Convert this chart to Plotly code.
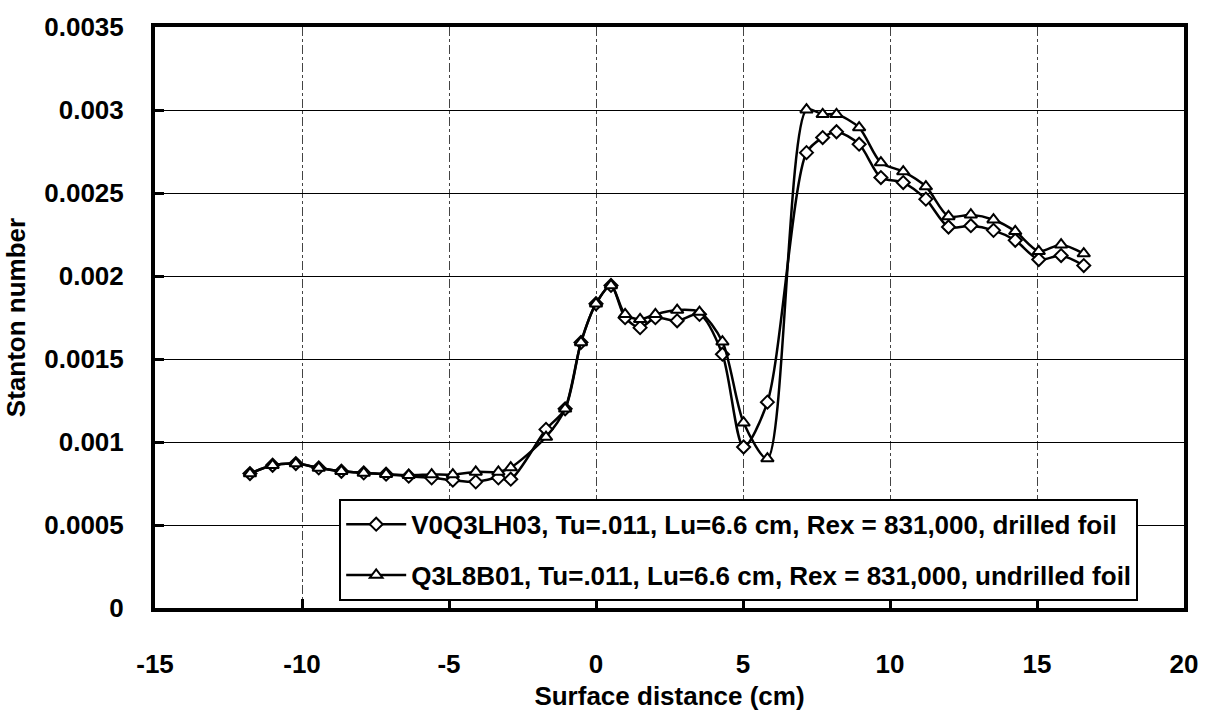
import plotly.graph_objects as go

# Surface distance (cm) of each measurement station
surface_distance = [-11.77, -11.0, -10.21, -9.43, -8.66, -7.90, -7.14, -6.37, -5.59, -4.87,
                    -4.09, -3.32, -2.90, -1.70, -1.05, -0.51, 0.0, 0.51, 0.99, 1.50,
                    2.02, 2.76, 3.52, 4.30, 5.02, 5.83, 7.16, 7.71, 8.18, 8.95,
                    9.69, 10.45, 11.22, 11.99, 12.75, 13.52, 14.26, 15.06, 15.82, 16.59]

# Stanton number, drilled foil run
st_drilled = [0.000810, 0.000860, 0.000870, 0.000844, 0.000824, 0.000814, 0.000806, 0.000794, 0.000784, 0.000770,
              0.000760, 0.000784, 0.000776, 0.001076, 0.001200, 0.001600, 0.001833, 0.001943, 0.001749, 0.001689,
              0.001749, 0.001730, 0.001769, 0.001529, 0.000970, 0.001240, 0.002743, 0.002834, 0.002869, 0.002794,
              0.002593, 0.002563, 0.002463, 0.002295, 0.002303, 0.002275, 0.002215, 0.002099, 0.002123, 0.002063]

# Stanton number, undrilled foil run
st_undrilled = [0.000810, 0.000860, 0.000870, 0.000844, 0.000824, 0.000814, 0.000806, 0.000800, 0.000804, 0.000804,
                0.000820, 0.000820, 0.000846, 0.001030, 0.001200, 0.001600, 0.001833, 0.001943, 0.001769, 0.001739,
                0.001769, 0.001795, 0.001783, 0.001604, 0.001116, 0.000900, 0.003002, 0.002974, 0.002974, 0.002894,
                0.002683, 0.002629, 0.002539, 0.002359, 0.002369, 0.002339, 0.002269, 0.002149, 0.002189, 0.002135]

series_names = [
    "V0Q3LH03, Tu=.011, Lu=6.6 cm, Rex = 831,000, drilled foil",
    "Q3L8B01, Tu=.011, Lu=6.6 cm, Rex = 831,000, undrilled foil",
]

x_ticks = [-15, -10, -5, 0, 5, 10, 15, 20]
y_ticks = [0, 0.0005, 0.001, 0.0015, 0.002, 0.0025, 0.003, 0.0035]
y_ticktext = ["0", "0.0005", "0.001", "0.0015", "0.002", "0.0025", "0.003", "0.0035"]

FONT = "Liberation Sans, Arial, Helvetica, sans-serif"
FS = 26

fig = go.Figure()
fig.add_trace(go.Scatter(
    x=surface_distance, y=st_drilled, name=series_names[0],
    mode="lines+markers", legendgroup="a",
    line=dict(color="black", width=2.5, shape="spline", smoothing=0.8),
    marker=dict(symbol="diamond", size=10, color="white", line=dict(color="black", width=2)),
))
fig.add_trace(go.Scatter(
    x=surface_distance, y=st_undrilled, name=series_names[1],
    mode="lines+markers", legendgroup="b",
    line=dict(color="black", width=2.5, shape="spline", smoothing=0.8),
    marker=dict(symbol="triangle-up", size=11, color="white", line=dict(color="black", width=2)),
))

fig.update_layout(
    width=1211, height=719,
    margin=dict(l=155, r=27, t=22, b=111),
    paper_bgcolor="white", plot_bgcolor="white",
    font=dict(family=FONT, size=FS, color="black", weight=700),
    showlegend=True,
    legend=dict(
        x=0.179, y=0.188, xanchor="left", yanchor="top",
        bgcolor="white", bordercolor="black", borderwidth=2,
        font=dict(family=FONT, size=FS, color="black", weight=700),
        traceorder="grouped", tracegroupgap=14,
        itemwidth=60,
    ),
)

fig.update_xaxes(
    range=[-15, 20], tickvals=x_ticks, ticktext=[str(v) for v in x_ticks],
    showline=True, linecolor="black", linewidth=4, mirror=True,
    ticks="inside", ticklen=9, tickwidth=3, tickcolor="black",
    showgrid=True, gridcolor="#444", gridwidth=1, griddash="dashdot",
    zeroline=False, ticklabelstandoff=30,
    title=dict(text="Surface distance (cm)", standoff=10,
               font=dict(family=FONT, size=FS, color="black", weight=700)),
)
fig.update_yaxes(
    range=[0, 0.0035], tickvals=y_ticks, ticktext=y_ticktext,
    showline=True, linecolor="black", linewidth=4, mirror=True,
    ticks="inside", ticklen=9, tickwidth=3, tickcolor="black",
    showgrid=True, gridcolor="black", gridwidth=1.2,
    zeroline=False, ticklabelstandoff=22,
    title=dict(text="Stanton number", standoff=12,
               font=dict(family=FONT, size=FS, color="black", weight=700)),
)

fig.write_html("out.html")
